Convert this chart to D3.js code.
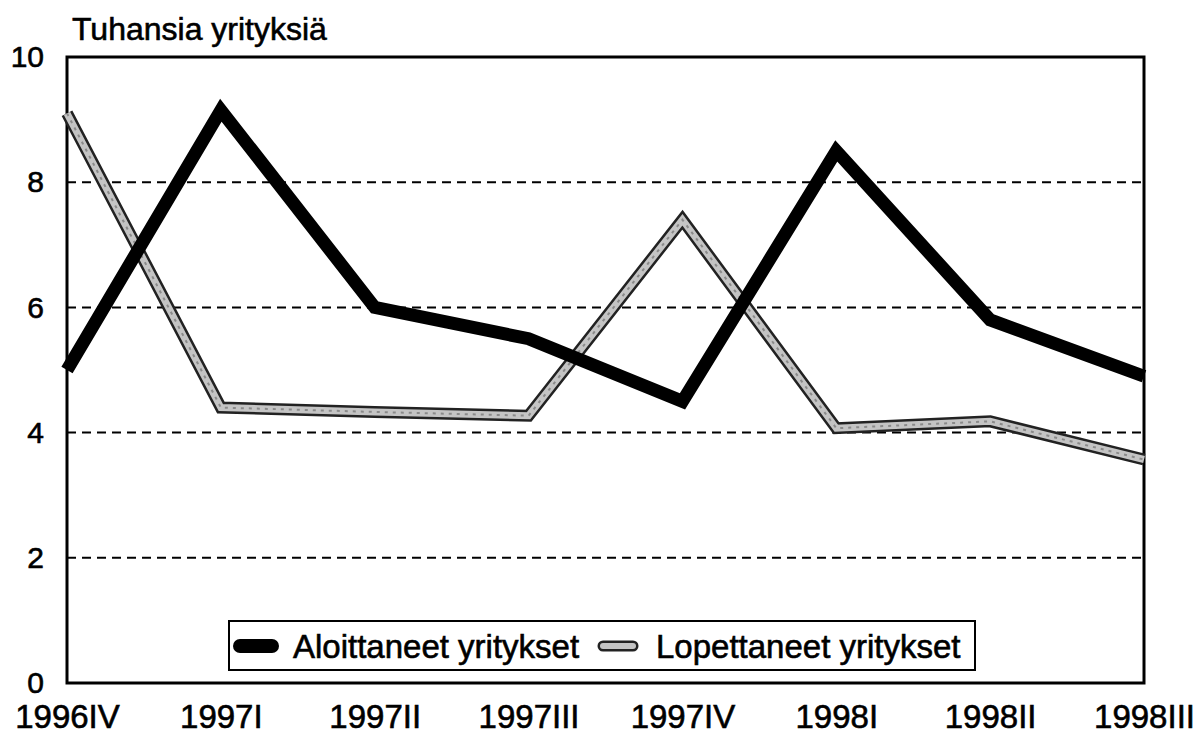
<!DOCTYPE html>
<html><head><meta charset="utf-8">
<script src="https://cdn.jsdelivr.net/npm/d3@7"></script>
<style>body{margin:0;background:#fff}svg{display:block}text{font-family:"Liberation Sans",Arial,sans-serif;fill:#000;stroke:#000;stroke-width:0.6px}</style>
</head><body><svg id="c" width="1201" height="736"></svg>
<script>
const categories = ["1996IV","1997I","1997II","1997III","1997IV","1998I","1998II","1998III"];
const aloittaneet = [5.0, 9.15, 6.0, 5.5, 4.5, 8.5, 5.8, 4.9];
const lopettaneet = [9.1, 4.4, 4.33, 4.27, 7.4, 4.07, 4.18, 3.57];
const yTicks = [0, 2, 4, 6, 8, 10];
const seriesNames = ["Aloittaneet yritykset", "Lopettaneet yritykset"];
const yTitle = "Tuhansia yrityksiä";

const svg = d3.select("#c");
const L = 67, R = 1144, T = 57, B = 683;
const x = d3.scalePoint().domain(categories).range([L, R]);
const y = d3.scaleLinear().domain([0, 10]).range([B, T]);

// gridlines
svg.append("g").selectAll("line").data(yTicks.filter(d => d > 0 && d < 10)).join("line")
  .attr("x1", L).attr("x2", R).attr("y1", d => y(d)).attr("y2", d => y(d))
  .attr("stroke", "#000").attr("stroke-width", 2).attr("stroke-dasharray", "9,6");

// frame
svg.append("rect").attr("x", L).attr("y", T).attr("width", R - L).attr("height", B - T)
  .attr("fill", "none").attr("stroke", "#000").attr("stroke-width", 3);

// y axis labels
const yAxis = d3.axisLeft(y).tickValues(yTicks).tickSize(0).tickPadding(23);
const ga = svg.append("g").attr("transform", `translate(${L},0)`).call(yAxis);
ga.select(".domain").remove();
ga.selectAll("text").style("font-size", "30px").style("font-family", '"Liberation Sans",Arial,sans-serif').attr("fill", "#000");

// x axis labels
const xAxis = d3.axisBottom(x).tickSize(0).tickPadding(22);
const gx = svg.append("g").attr("transform", `translate(0,${B})`).call(xAxis);
gx.select(".domain").remove();
gx.selectAll("text").style("font-size", "33px").style("font-family", '"Liberation Sans",Arial,sans-serif').attr("fill", "#000");

// title
svg.append("text").attr("x", 72).attr("y", 40).style("font-size", "32px").text(yTitle);

const line = d3.line().x((d, i) => x(categories[i])).y(d => y(d));

// grey series (outlined)
svg.append("path").attr("d", line(lopettaneet)).attr("fill", "none")
  .attr("stroke", "#222").attr("stroke-width", 12).attr("stroke-linejoin", "miter");
svg.append("path").attr("d", line(lopettaneet)).attr("fill", "none")
  .attr("stroke", "#c4c4c4").attr("stroke-width", 7).attr("stroke-linejoin", "miter");
svg.append("path").attr("d", line(lopettaneet)).attr("fill", "none")
  .attr("stroke", "#8a8a8a").attr("stroke-width", 2).attr("stroke-dasharray", "3,5");

// black series
svg.append("path").attr("d", line(aloittaneet)).attr("fill", "none")
  .attr("stroke", "#000").attr("stroke-width", 13).attr("stroke-linejoin", "miter");

// legend
const lg = svg.append("g");
lg.append("rect").attr("x", 229).attr("y", 621).attr("width", 746).attr("height", 49)
  .attr("fill", "#fff").attr("stroke", "#000").attr("stroke-width", 2);
const ly = 646;
lg.append("line").attr("x1", 240).attr("x2", 272).attr("y1", ly).attr("y2", ly)
  .attr("stroke", "#000").attr("stroke-width", 14).attr("stroke-linecap", "round");
lg.append("text").attr("x", 293).attr("y", ly + 12).style("font-size", "33px").text(seriesNames[0]);
lg.append("line").attr("x1", 603).attr("x2", 633).attr("y1", ly).attr("y2", ly)
  .attr("stroke", "#222").attr("stroke-width", 11).attr("stroke-linecap", "round");
lg.append("line").attr("x1", 603).attr("x2", 633).attr("y1", ly).attr("y2", ly)
  .attr("stroke", "#c4c4c4").attr("stroke-width", 6).attr("stroke-linecap", "round");
lg.append("text").attr("x", 656).attr("y", ly + 12).style("font-size", "33px").text(seriesNames[1]);
</script></body></html>
